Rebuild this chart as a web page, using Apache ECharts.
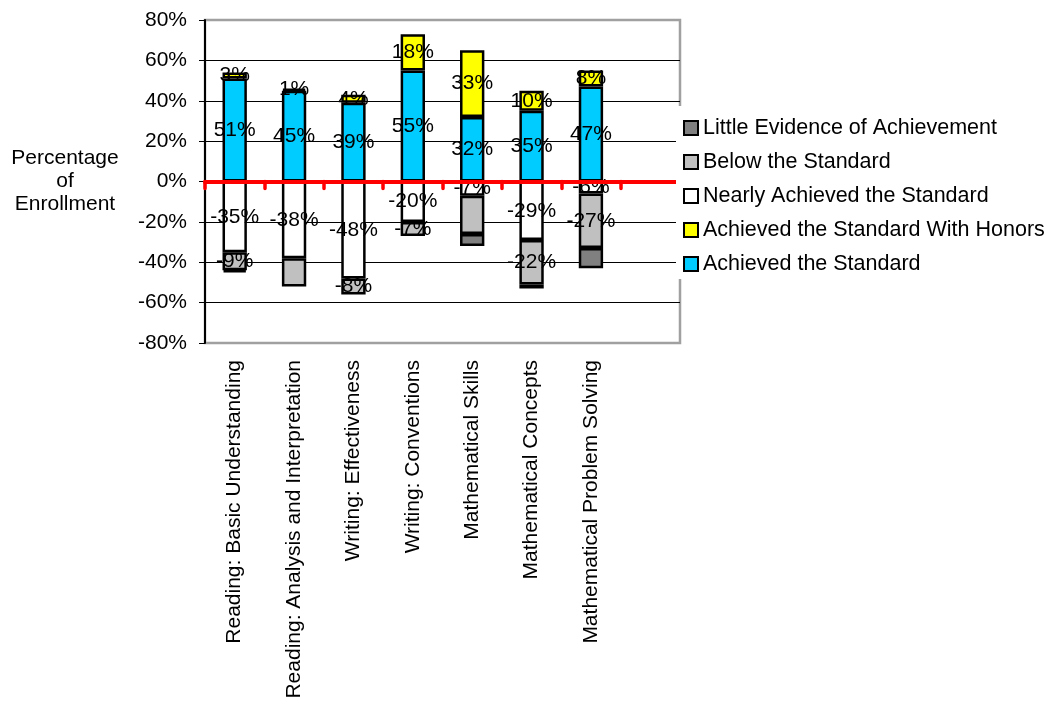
<!DOCTYPE html>
<html>
<head>
<meta charset="utf-8">
<script src="https://cdn.jsdelivr.net/npm/echarts@6/dist/echarts.min.js"></script>
<style>
  html, body { margin: 0; padding: 0; background: #fff; }
  #chart { width: 1047px; height: 707px; }
</style>
</head>
<body>
<div id="chart"></div>
<script>
// Subject areas (one stacked bar each)
const categories = [
  'Reading: Basic Understanding',
  'Reading: Analysis and Interpretation',
  'Writing: Effectiveness',
  'Writing: Conventions',
  'Mathematical Skills',
  'Mathematical Concepts',
  'Mathematical Problem Solving'
];

// Percent of enrollment per performance level (negative = below "Achieved")
const achieved = [51, 45, 39, 55, 32, 35, 47];
const honors   = [3, 1, 4, 18, 33, 10, 8];
const nearly   = [-35, -38, -48, -20, -7, -29, -6];
const below    = [-9, -14, -8, -7, -19, -22, -27];
const little   = [-1, 0, 0, 0, -6, -2, -10];

// Bars whose "Below the Standard" value is not printed
const belowUnlabeled = [1, 4];

// Y axis ticks
const yTicks = [-80, -60, -40, -20, 0, 20, 40, 60, 80];

const FONT = "'Liberation Sans', Arial, sans-serif";
const FS = 21;

// one spare slot to the right of the last subject
const axisCats = categories.concat(['']);

const labelBase = {
  show: true,
  position: 'inside',
  color: '#000',
  fontFamily: FONT,
  fontSize: FS,
  textBorderWidth: 0,
  formatter: p => p.value + '%'
};

function makeSeries(name, values, color, opts) {
  opts = opts || {};
  return {
    name: name,
    type: 'bar',
    stack: 'levels',
    xAxisIndex: 0,
    barWidth: '41%',
    itemStyle: { color: color, borderColor: '#000', borderWidth: 2.5 },
    label: Object.assign({}, labelBase, { show: opts.showLabel !== false }),
    data: values.map((v, i) => {
      if (v === 0) return null;
      if (opts.hide && opts.hide.indexOf(i) >= 0) {
        return { value: v, label: { show: false } };
      }
      return v;
    })
  };
}

const chart = echarts.init(document.getElementById('chart'), null, { renderer: 'canvas' });

chart.setOption({
  animation: false,
  backgroundColor: '#fff',
  textStyle: { fontFamily: FONT },
  grid: {
    left: 205, top: 20, right: 367, bottom: 364,
    show: true,
    borderColor: '#a0a0a0',
    borderWidth: 2.5,
    backgroundColor: 'transparent'
  },
  legend: {
    orient: 'vertical',
    left: 676,
    top: 106,
    padding: [11, 10, 4, 7],
    backgroundColor: '#fff',
    itemWidth: 14,
    itemHeight: 14,
    itemGap: 12,
    icon: 'rect',
    z: 20,
    textStyle: { fontFamily: FONT, fontSize: 21.5, color: '#000' },
    data: [
      'Little Evidence of Achievement',
      'Below the Standard',
      'Nearly Achieved the Standard',
      'Achieved the Standard With Honors',
      'Achieved the Standard'
    ]
  },
  xAxis: [
    {
      // category labels along the bottom of the plot
      type: 'category',
      data: axisCats,
      position: 'bottom',
      axisLine: { show: false, onZero: false },
      axisTick: { show: false },
      axisLabel: {
        interval: 0,
        rotate: 90,
        margin: 17,
        color: '#000',
        fontFamily: FONT,
        fontSize: FS
      }
    },
    {
      // red baseline at 0%
      type: 'category',
      data: axisCats,
      position: 'bottom',
      z: 10,
      axisLine: { show: true, onZero: true, lineStyle: { color: '#ff0000', width: 4 } },
      axisTick: { show: true, interval: 0, length: 7, lineStyle: { color: '#ff0000', width: 3.5, cap: 'round' } },
      axisLabel: { show: false }
    }
  ],
  yAxis: {
    type: 'value',
    min: yTicks[0],
    max: yTicks[yTicks.length - 1],
    interval: 20,
    name: 'Percentage\nof\nEnrollment',
    nameLocation: 'middle',
    nameRotate: 0,
    nameGap: 140,
    nameTextStyle: {
      fontFamily: FONT,
      fontSize: FS,
      color: '#000',
      align: 'center',
      verticalAlign: 'middle',
      lineHeight: 23
    },
    axisLine: { show: true, lineStyle: { color: '#000', width: 2 } },
    axisTick: { show: true, length: 6, lineStyle: { color: '#000', width: 1 } },
    axisLabel: {
      margin: 18,
      color: '#000',
      fontFamily: FONT,
      fontSize: FS,
      formatter: '{value}%'
    },
    splitLine: {
      show: true,
      lineStyle: {
        width: 1,
        color: ['rgba(0,0,0,0)', '#000', '#000', '#000', '#000', '#000', '#000', '#000', 'rgba(0,0,0,0)']
      }
    }
  },
  series: [
    makeSeries('Achieved the Standard', achieved, '#00ccff'),
    makeSeries('Achieved the Standard With Honors', honors, '#ffff00'),
    makeSeries('Nearly Achieved the Standard', nearly, '#ffffff'),
    makeSeries('Below the Standard', below, '#c0c0c0', { hide: belowUnlabeled }),
    makeSeries('Little Evidence of Achievement', little, '#808080', { showLabel: false })
  ]
});
</script>
</body>
</html>
